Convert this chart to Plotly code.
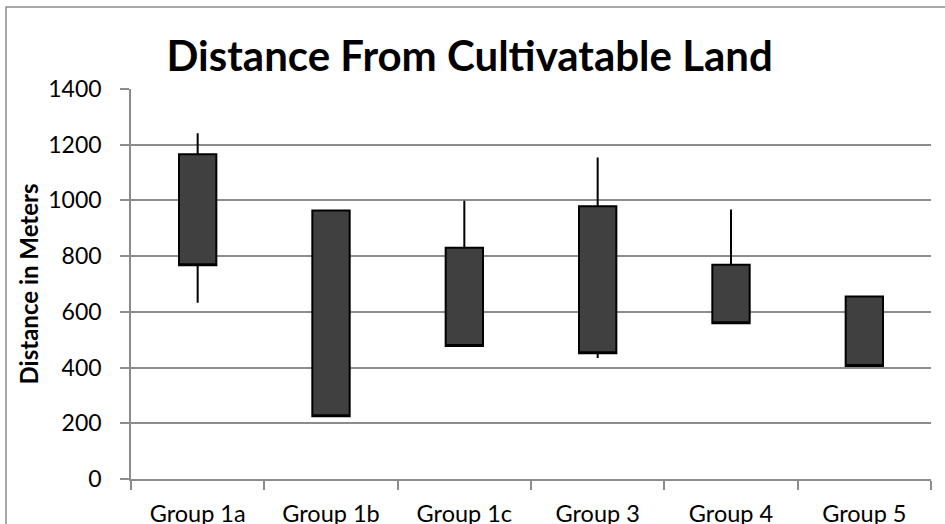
import plotly.graph_objects as go

categories = ["Group 1a", "Group 1b", "Group 1c", "Group 3", "Group 4", "Group 5"]
open_vals = [1166, 964, 830, 979, 769, 655]
high_vals = [1241, 964, 999, 1154, 967, 655]
low_vals = [633, 222, 475, 434, 559, 403]
close_vals = [767, 225, 477, 451, 559, 406]
y_ticks = [0, 200, 400, 600, 800, 1000, 1200, 1400]

FONT = "Lato"
GRID = "#8c8c8c"

fig = go.Figure()
fig.add_trace(go.Candlestick(
    x=categories, open=open_vals, high=high_vals, low=low_vals, close=close_vals,
    increasing=dict(fillcolor="#404040", line=dict(color="#000000", width=2)),
    decreasing=dict(fillcolor="#404040", line=dict(color="#000000", width=2)),
    whiskerwidth=0, showlegend=False, hoverinfo="x+y",
))

fig.update_layout(
    width=945, height=524,
    margin=dict(l=131, r=14, t=89, b=45),
    paper_bgcolor="white", plot_bgcolor="white",
    boxgap=0.6,
    font=dict(family=FONT, color="#000000"),
    title=dict(text="<b>Distance From Cultivatable Land</b>", x=0.497, xanchor="center",
               y=0.892, yanchor="middle", yref="container",
               font=dict(size=42, family=FONT, color="#000000")),
    xaxis=dict(
        type="category", rangeslider=dict(visible=False), automargin=False,
        showline=True, linecolor=GRID, linewidth=1.5,
        ticks="outside", tickson="boundaries", ticklen=9, tickcolor=GRID, tickwidth=1.5,
        tickfont=dict(size=23.5, family=FONT, color="#000000"),
        showgrid=False, ticklabelstandoff=13,
    ),
    yaxis=dict(
        range=[0, 1400], tickvals=y_ticks, ticktext=[str(v) for v in y_ticks],
        automargin=False,
        showline=True, linecolor=GRID, linewidth=1.5,
        showgrid=True, gridcolor=GRID, gridwidth=1.5,
        ticks="outside", ticklen=9, tickcolor=GRID, tickwidth=1.5,
        tickfont=dict(size=23, family=FONT, color="#000000"),
        ticklabelstandoff=14, zeroline=False,
        title=dict(text="<b>Distance in Meters</b>", font=dict(size=24, family=FONT, color="#000000"),
                   standoff=3),
    ),
    shapes=[dict(type="rect", xref="paper", yref="paper",
                 x0=(6 - 131) / 800, x1=(960 - 131) / 800,
                 y0=(479 - 540) / 390, y1=(479 - 7) / 390,
                 line=dict(color=GRID, width=1.5), fillcolor="rgba(0,0,0,0)", layer="below")],
)

fig.write_html("out.html", config={"displayModeBar": False},
               post_script="document.body.style.margin='0';document.body.style.overflow='hidden';")
